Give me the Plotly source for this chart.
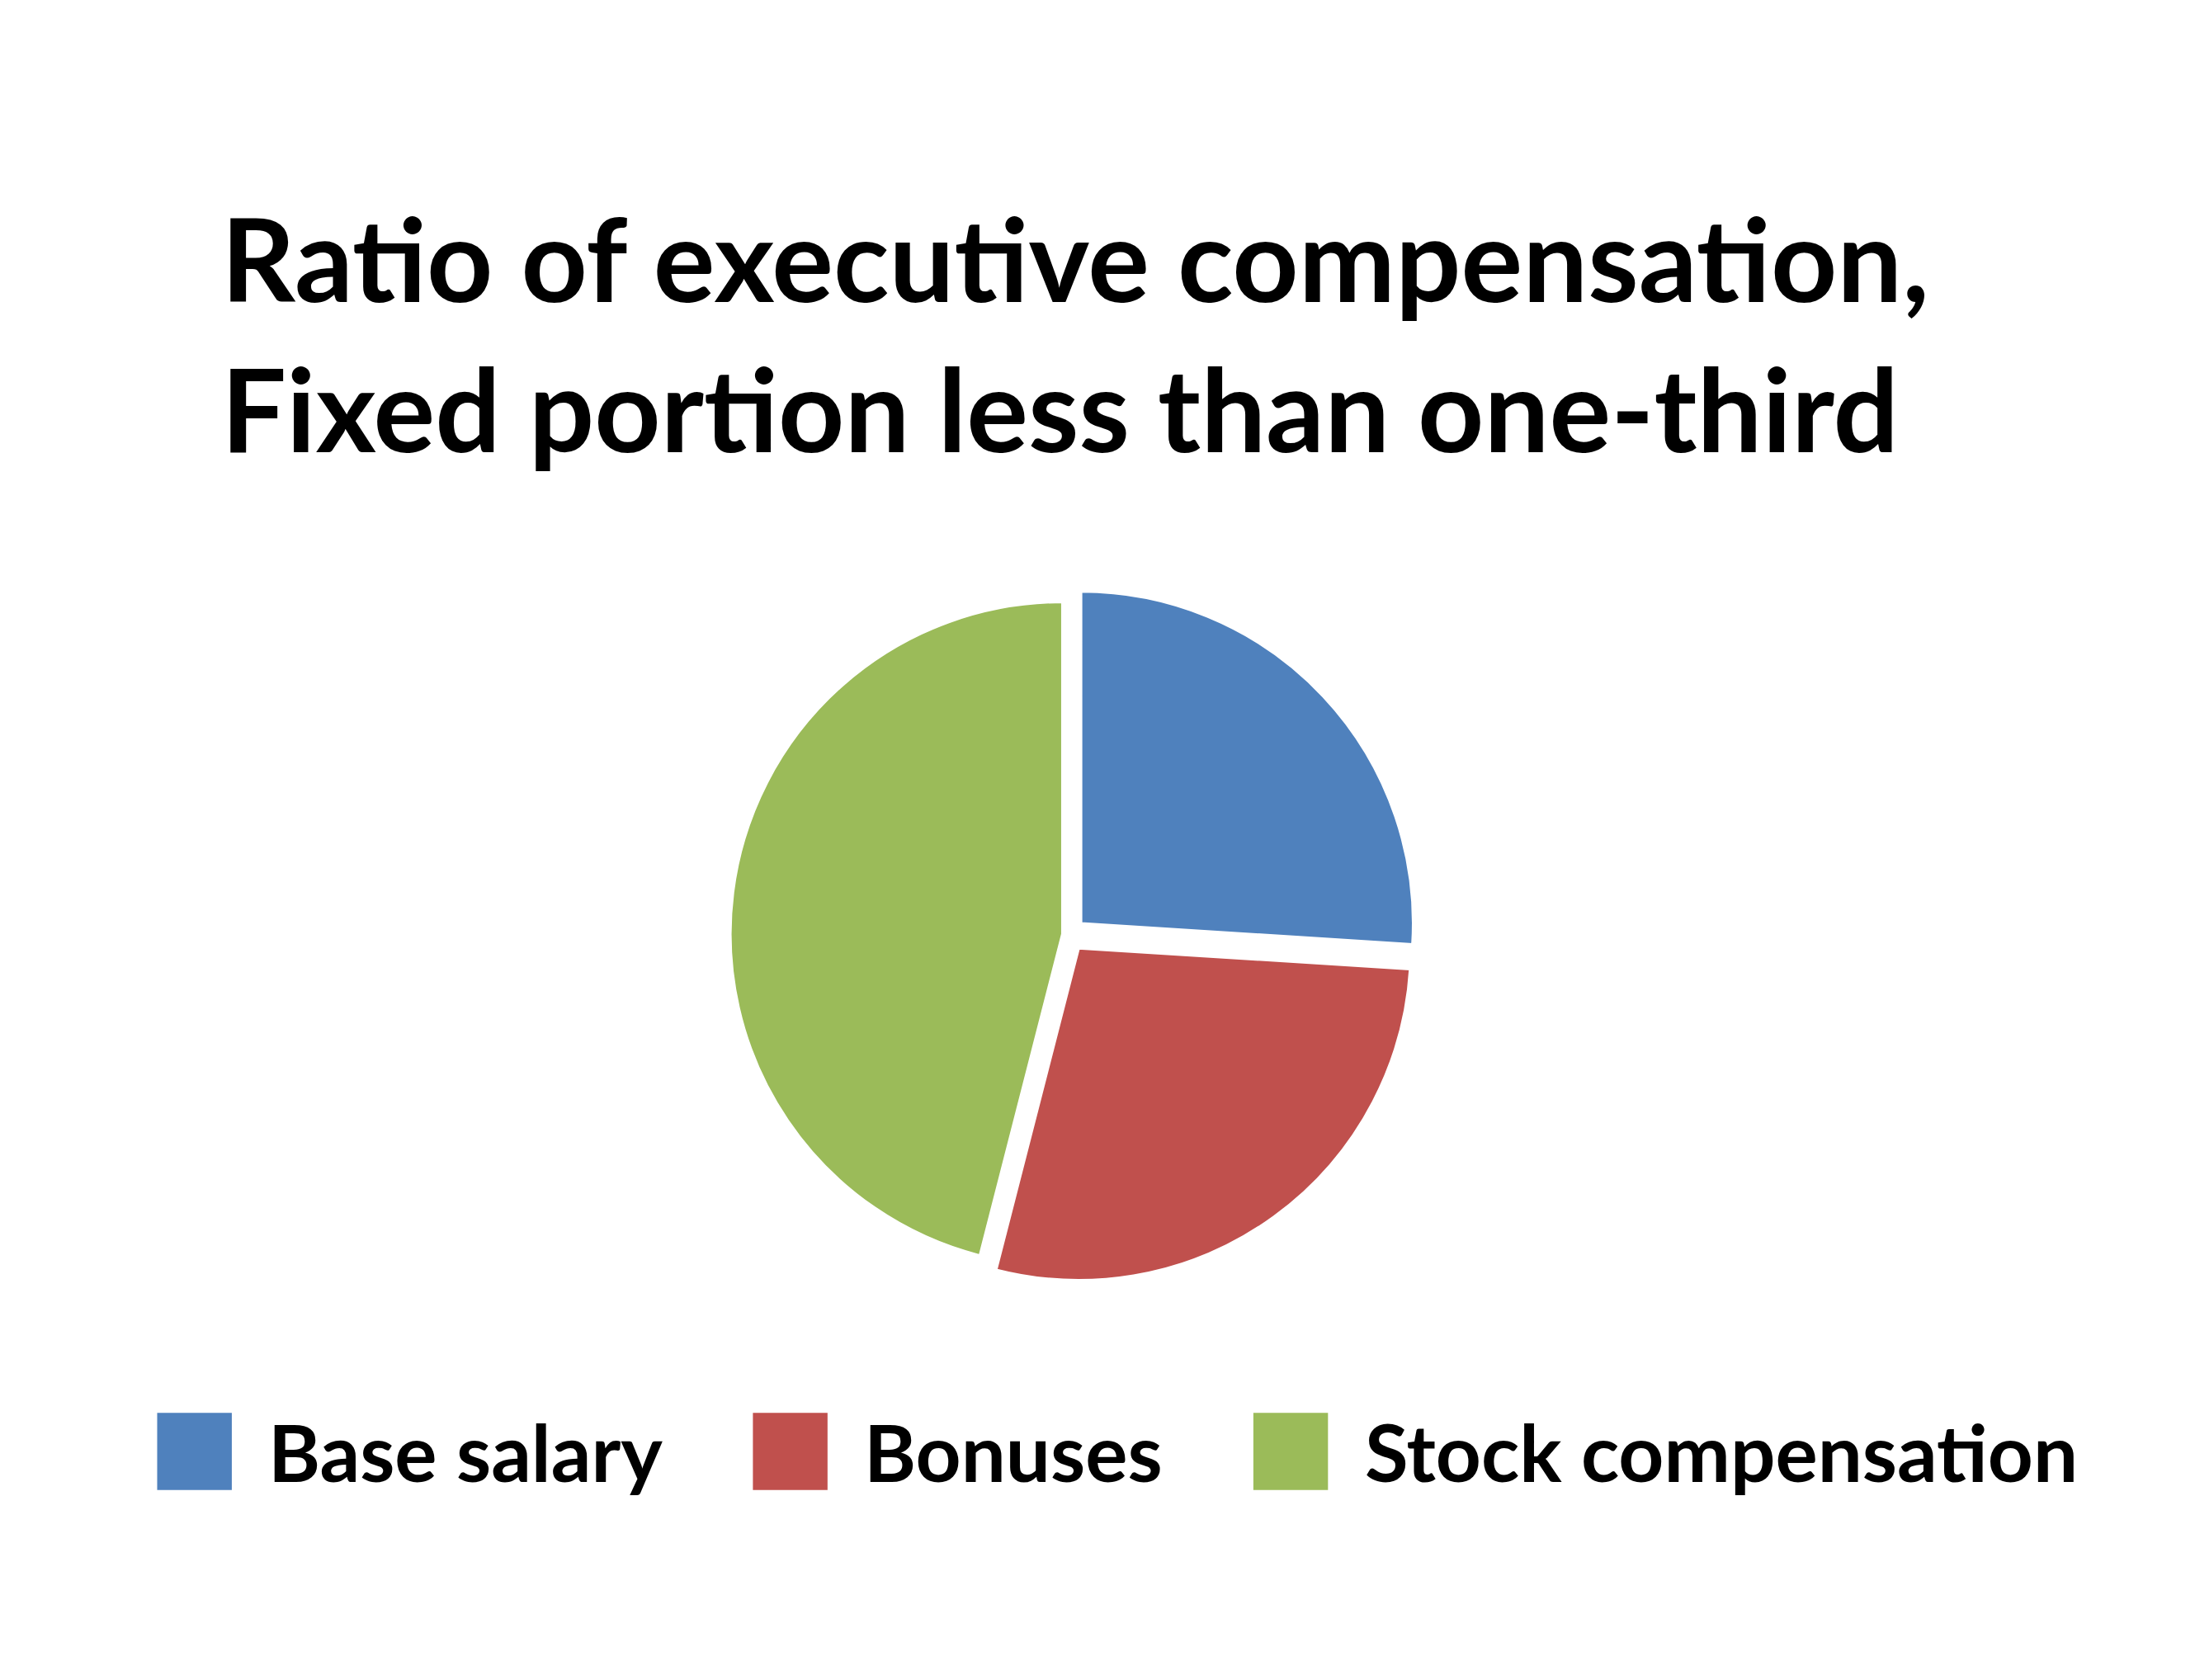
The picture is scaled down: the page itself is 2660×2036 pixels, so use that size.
import plotly.graph_objects as go

labels = ["Base salary", "Bonuses", "Stock compensation"]
values = [26, 28, 46]
colors = ["#4F81BD", "#C0504D", "#9BBB59"]
pulls = [0.05, 0.05, 0.02]

fig = go.Figure(go.Pie(
    labels=labels, values=values, sort=False, direction="clockwise", rotation=0,
    marker=dict(colors=colors, line=dict(color="white", width=3)),
    pull=pulls, textinfo="none", hoverinfo="label+percent", showlegend=False,
    domain=dict(x=[0.318, 0.65], y=[0.24, 0.655]),
))

# manual legend positions (paper fractions)
sq_x = [0.0686, 0.340, 0.568]
sq_w = 0.034
ann = [dict(
    text="<b>Ratio of executive compensation,<br>Fixed portion less than one-third</b>",
    xref="paper", yref="paper", x=0.097, y=0.893, xanchor="left", yanchor="top",
    align="left", showarrow=False, font=dict(size=140, family="Lato", color="black"))]
shapes = []
for lab, col, x0 in zip(labels, colors, sq_x):
    shapes.append(dict(type="rect", xref="paper", yref="paper", x0=x0, x1=x0 + sq_w,
                       y0=0.117, y1=0.163, fillcolor=col, line=dict(width=0)))
    ann.append(dict(text="<b>" + lab + "</b>", xref="paper", yref="paper",
                    x=x0 + sq_w + 0.016, y=0.140, xanchor="left", yanchor="middle",
                    showarrow=False, font=dict(size=96, family="Lato", color="black")))

fig.update_layout(
    width=2660, height=2036, paper_bgcolor="white", plot_bgcolor="white",
    margin=dict(l=0, r=0, t=0, b=0), showlegend=False,
    font=dict(family="Lato", color="black"),
    annotations=ann, shapes=shapes,
)
fig.write_html("out.html")
